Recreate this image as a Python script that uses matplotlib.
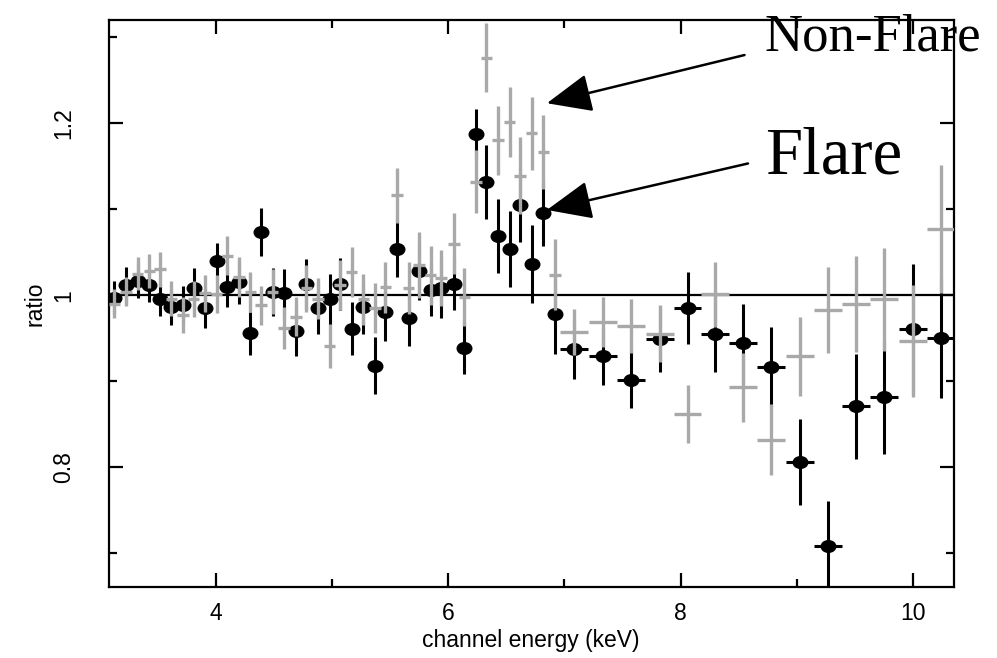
import matplotlib
matplotlib.use("Agg")
import matplotlib.pyplot as plt
from matplotlib.path import Path
from matplotlib.transforms import Affine2D
from matplotlib.ticker import MultipleLocator

# Channel energies (keV) and bin half-widths
energy = [3.13, 3.23, 3.33, 3.43, 3.52, 3.62, 3.72, 3.81, 3.91, 4.01,
          4.10, 4.20, 4.30, 4.39, 4.49, 4.59, 4.69, 4.78, 4.88, 4.98,
          5.07, 5.17, 5.27, 5.37, 5.46, 5.56, 5.66, 5.75, 5.85, 5.94,
          6.05, 6.14, 6.24, 6.33, 6.43, 6.53, 6.62, 6.72, 6.82, 6.92,
          7.08, 7.33, 7.57, 7.82, 8.06, 8.30, 8.54, 8.78, 9.03, 9.27,
          9.51, 9.75, 10.00, 10.24]
half_width = [0.049] * 40 + [0.12] * 14

# Flare spectrum: data/model ratio and 1-sigma errors
flare_ratio = [0.997, 1.012, 1.017, 1.012, 0.995, 0.986, 0.989, 1.008, 0.985, 1.040,
               1.010, 1.015, 0.956, 1.073, 1.004, 1.002, 0.958, 1.013, 0.985, 0.995,
               1.013, 0.961, 0.986, 0.918, 0.980, 1.054, 0.974, 1.028, 1.006, 1.008,
               1.013, 0.939, 1.187, 1.132, 1.069, 1.054, 1.105, 1.036, 1.095, 0.978,
               0.938, 0.929, 0.902, 0.949, 0.985, 0.955, 0.944, 0.916, 0.806, 0.709,
               0.871, 0.882, 0.961, 0.950]
flare_err = [0.019, 0.021, 0.020, 0.020, 0.019, 0.021, 0.022, 0.024, 0.023, 0.021,
             0.024, 0.025, 0.025, 0.028, 0.028, 0.028, 0.029, 0.029, 0.030, 0.030,
             0.030, 0.031, 0.031, 0.033, 0.033, 0.033, 0.033, 0.034, 0.030, 0.035,
             0.030, 0.031, 0.029, 0.043, 0.043, 0.044, 0.043, 0.045, 0.038, 0.046,
             0.035, 0.033, 0.033, 0.038, 0.042, 0.044, 0.046, 0.047, 0.050, 0.052,
             0.061, 0.066, 0.075, 0.070]

# Non-flare spectrum: data/model ratio and 1-sigma errors
quiet_ratio = [0.990, 1.004, 1.025, 1.028, 1.030, 0.996, 0.977, 0.996, 1.002, 1.001,
               1.046, 1.021, 1.004, 0.988, 1.004, 0.962, 0.975, 1.008, 0.996, 0.941,
               1.012, 1.027, 0.995, 0.985, 1.009, 1.116, 1.008, 1.035, 1.023, 1.020,
               1.060, 0.998, 1.132, 1.276, 1.180, 1.201, 1.139, 1.188, 1.166, 1.024,
               0.957, 0.969, 0.964, 0.955, 0.862, 1.001, 0.893, 0.832, 0.929, 0.983,
               0.990, 0.995, 0.947, 1.077]
quiet_err = [0.017, 0.017, 0.019, 0.020, 0.020, 0.020, 0.021, 0.021, 0.021, 0.022,
             0.023, 0.023, 0.023, 0.023, 0.026, 0.024, 0.023, 0.027, 0.024, 0.026,
             0.029, 0.029, 0.030, 0.029, 0.030, 0.032, 0.030, 0.038, 0.034, 0.033,
             0.035, 0.034, 0.037, 0.040, 0.040, 0.041, 0.045, 0.042, 0.043, 0.041,
             0.027, 0.029, 0.031, 0.033, 0.034, 0.038, 0.040, 0.041, 0.046, 0.050,
             0.056, 0.060, 0.065, 0.074]

x_ticks = [4, 6, 8, 10]
y_ticks = [0.8, 1.0, 1.2]
y_tick_labels = ["0.8", "1", "1.2"]

GREY = "#a9a9a9"
LABEL_FONT = ["Liberation Sans", "DejaVu Sans"]
SERIF_FONT = ["Liberation Serif", "DejaVu Serif"]
LABEL_SIZE = 16.5

# slightly flattened dot used for the flare points
dot = Path.unit_circle().transformed(Affine2D().scale(1.25, 1.0))

fig = plt.figure(figsize=(9.97, 6.58), dpi=100)
ax = fig.add_axes([0.109, 0.108, 0.8476, 0.862])

ax.axhline(1.0, color="black", lw=1.6, zorder=1)

ax.errorbar(energy, flare_ratio, yerr=flare_err, xerr=half_width,
            fmt="none", ecolor="black", elinewidth=2.2, capsize=0, zorder=2)
ax.plot(energy, flare_ratio, linestyle="none", marker=dot, ms=10.5,
        color="black", mec="black", zorder=2.5)
ax.errorbar(energy, quiet_ratio, yerr=quiet_err, xerr=half_width,
            fmt="none", ecolor=GREY, elinewidth=2.4, capsize=0, zorder=3)

ax.set_xlim(3.08, 10.35)
ax.set_ylim(0.661, 1.32)

ax.set_xticks(x_ticks)
ax.set_xticklabels([str(t) for t in x_ticks])
ax.xaxis.set_minor_locator(MultipleLocator(1))
ax.set_yticks(y_ticks)
ax.set_yticklabels(y_tick_labels)
ax.yaxis.set_minor_locator(MultipleLocator(0.1))

ax.tick_params(which="both", direction="in", top=True, right=True, width=1.6,
               colors="black")
ax.tick_params(which="major", length=10)
ax.tick_params(which="minor", length=5.5)
ax.tick_params(axis="x", pad=11)
ax.tick_params(axis="y", pad=24, labelrotation=90)
for lab in ax.get_xticklabels() + ax.get_yticklabels():
    lab.set_family(LABEL_FONT)
    lab.set_fontsize(LABEL_SIZE)
for lab in ax.get_yticklabels():
    lab.set_va("center")

for s in ax.spines.values():
    s.set_linewidth(1.6)

ax.set_xlabel("channel energy (keV)", family=LABEL_FONT, fontsize=LABEL_SIZE,
              labelpad=3)
ax.set_ylabel("ratio", family=LABEL_FONT, fontsize=LABEL_SIZE, labelpad=4)

arrow = dict(arrowstyle="-|>,head_length=1.4,head_width=0.6", color="black",
             lw=1.8, mutation_scale=20, shrinkA=0, shrinkB=0)
ax.annotate("", xy=(6.85, 1.223), xytext=(8.55, 1.279),
            arrowprops=arrow, annotation_clip=False)
ax.annotate("", xy=(6.85, 1.099), xytext=(8.58, 1.153),
            arrowprops=arrow, annotation_clip=False)
ax.text(8.725, 1.2846, "Non-Flare", family=SERIF_FONT, fontsize=38,
        va="baseline", ha="left", clip_on=False)
ax.text(8.73, 1.1415, "Flare", family=SERIF_FONT, fontsize=48,
        va="baseline", ha="left", clip_on=False)

fig.savefig("out.png", dpi=100)
